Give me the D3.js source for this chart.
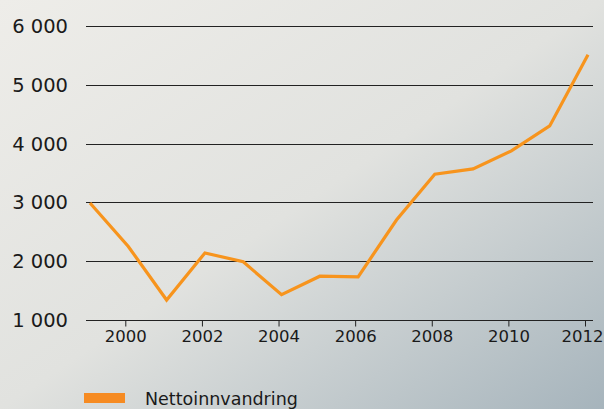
<!DOCTYPE html>
<html>
<head>
<meta charset="utf-8">
<script src="https://cdn.jsdelivr.net/npm/d3@7"></script>
<style>
    body { margin: 0; }
    svg { display: block; font-family: "DejaVu Sans", sans-serif; }
</style>
</head>
<body>
<div id="chart"></div>
<script>
var years = [1999, 2000, 2001, 2002, 2003, 2004, 2005, 2006, 2007, 2008, 2009, 2010, 2011, 2012];
var netto = [2990, 2250, 1340, 2140, 1990, 1430, 1745, 1735, 2700, 3480, 3570, 3875, 4300, 5510];
var yTicks = [1000, 2000, 3000, 4000, 5000, 6000];
var xTicks = [2000, 2002, 2004, 2006, 2008, 2010, 2012];
var seriesName = "Nettoinnvandring";

var width = 604, height = 409;
var svg = d3.select("#chart").append("svg")
    .attr("width", width)
    .attr("height", height);

// background gradient
var grad = svg.append("defs").append("linearGradient")
    .attr("id", "bg")
    .attr("x1", 0).attr("y1", 0)
    .attr("x2", 1).attr("y2", 1);
grad.append("stop").attr("offset", 0).attr("stop-color", "#eeede9");
grad.append("stop").attr("offset", 0.5).attr("stop-color", "#e1e2df");
grad.append("stop").attr("offset", 1).attr("stop-color", "#a6b4bc");

svg.append("rect")
    .attr("width", width)
    .attr("height", height)
    .attr("fill", "url(#bg)");

var x = d3.scaleLinear().domain([1999, 2012]).range([90, 588]);
var y = d3.scaleLinear().domain([1000, 6000]).range([320, 26]);

// horizontal grid lines + y labels
svg.append("g")
    .selectAll("line")
    .data(yTicks)
    .join("line")
    .attr("x1", 86)
    .attr("x2", 593)
    .attr("y1", d => Math.round(y(d)) + 0.5)
    .attr("y2", d => Math.round(y(d)) + 0.5)
    .attr("stroke", "#222")
    .attr("stroke-width", 1.2);

svg.append("g")
    .selectAll("text")
    .data(yTicks)
    .join("text")
    .attr("x", 68)
    .attr("y", d => y(d) + 7)
    .attr("text-anchor", "end")
    .attr("font-size", 19.5)
    .attr("fill", "#1a1a1a")
    .text(d => d3.format(",")(d).replace(",", " "));

// x axis ticks
var xAxis = svg.append("g")
    .attr("transform", "translate(-3," + (Math.round(y(1000)) + 0.5) + ")")
    .call(d3.axisBottom(x).tickValues(xTicks).tickFormat(d3.format("d")).tickSize(6).tickPadding(4));
xAxis.select(".domain").remove();
xAxis.selectAll(".tick line").attr("stroke", "#222");
xAxis.selectAll(".tick text")
    .attr("font-size", 16.5)
    .attr("font-family", "DejaVu Sans, sans-serif")
    .attr("fill", "#1a1a1a")
    .attr("dx", d => d === 2012 ? -3 : 0);

// line
var line = d3.line()
    .x((d, i) => x(years[i]))
    .y(d => y(d));

svg.append("path")
    .datum(netto)
    .attr("d", line)
    .attr("fill", "none")
    .attr("stroke", "#f7941d")
    .attr("stroke-width", 3.2)
    .attr("stroke-linejoin", "miter");

// legend (nudged up a little so the descenders stay inside)
svg.append("rect")
    .attr("x", 84)
    .attr("y", 393)
    .attr("width", 41)
    .attr("height", 10)
    .attr("fill", "#f68b22");

svg.append("text")
    .attr("x", 145)
    .attr("y", 404.5)
    .attr("font-size", 17.5)
    .attr("fill", "#1a1a1a")
    .text(seriesName);
</script>
</body>
</html>
